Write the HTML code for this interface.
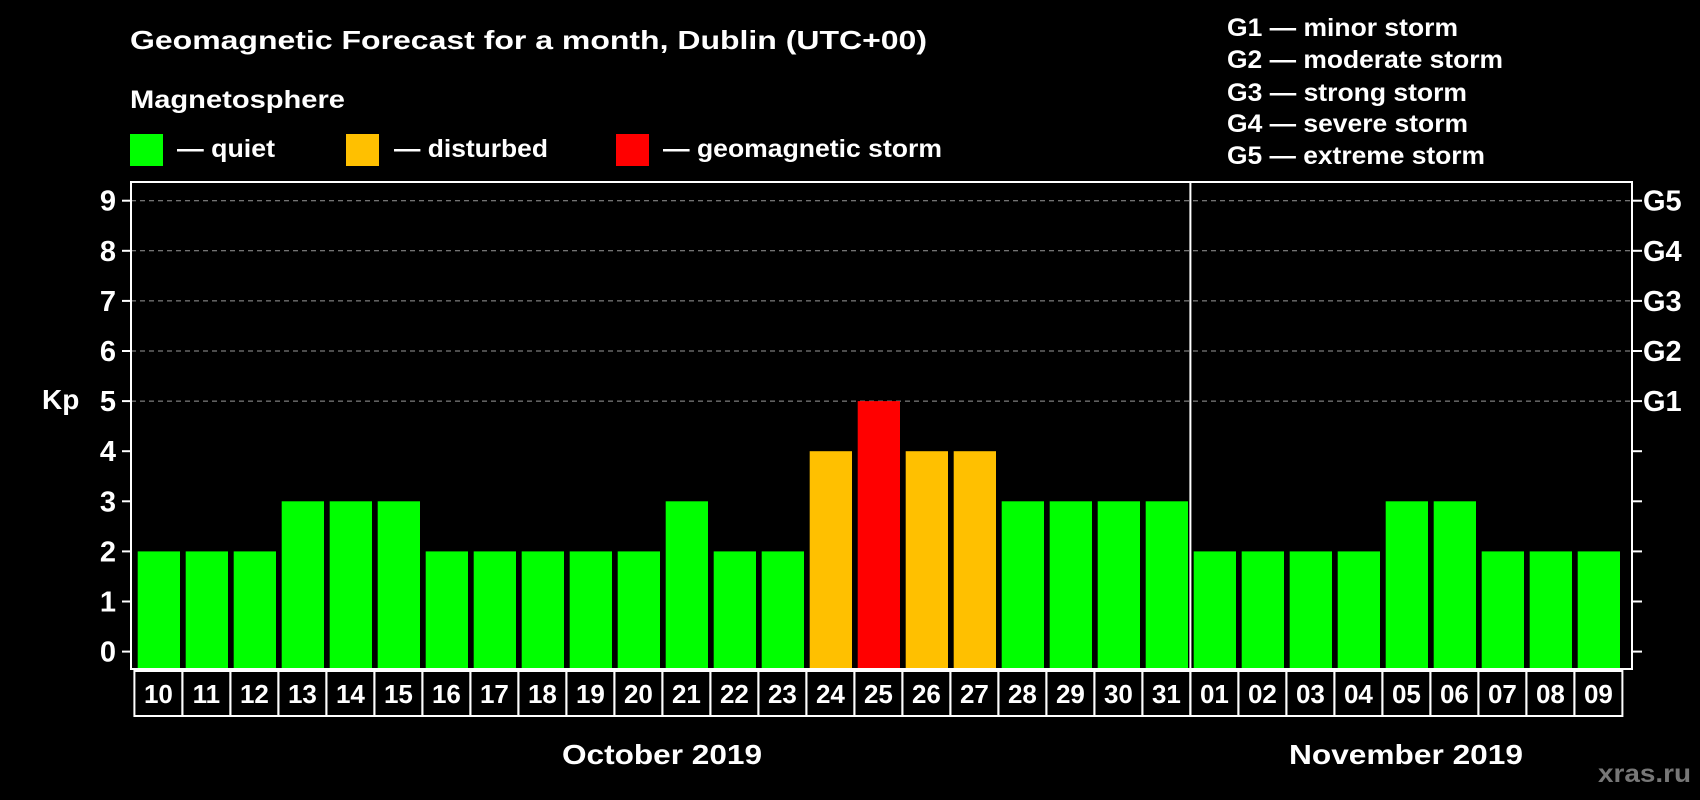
<!DOCTYPE html>
<html><head><meta charset="utf-8"><style>
body{margin:0;background:#000;width:1700px;height:800px;overflow:hidden;font-family:"Liberation Sans",sans-serif;font-weight:bold;color:#fff}
svg{position:absolute;left:0;top:0}
text{font-family:"Liberation Sans",sans-serif;font-weight:bold;fill:#fff}
</style></head><body>
<svg id="chart" width="1700" height="800">
<text x="130" y="49" font-size="26" textLength="797" lengthAdjust="spacingAndGlyphs">Geomagnetic Forecast for a month, Dublin (UTC+00)</text>
<text x="130" y="108" font-size="25" textLength="215" lengthAdjust="spacingAndGlyphs">Magnetosphere</text>
<rect x="130" y="134" width="33" height="32" fill="#00ff00"/>
<text x="177" y="157" font-size="25" textLength="98" lengthAdjust="spacingAndGlyphs">— quiet</text>
<rect x="346" y="134" width="33" height="32" fill="#ffc000"/>
<text x="394" y="157" font-size="25" textLength="154" lengthAdjust="spacingAndGlyphs">— disturbed</text>
<rect x="616" y="134" width="33" height="32" fill="#ff0000"/>
<text x="663" y="157" font-size="25" textLength="279" lengthAdjust="spacingAndGlyphs">— geomagnetic storm</text>
<text x="1227" y="36" font-size="25" textLength="231" lengthAdjust="spacingAndGlyphs">G1 — minor storm</text>
<text x="1227" y="68" font-size="25" textLength="276" lengthAdjust="spacingAndGlyphs">G2 — moderate storm</text>
<text x="1227" y="101" font-size="25" textLength="240" lengthAdjust="spacingAndGlyphs">G3 — strong storm</text>
<text x="1227" y="132" font-size="25" textLength="241" lengthAdjust="spacingAndGlyphs">G4 — severe storm</text>
<text x="1227" y="164" font-size="25" textLength="258" lengthAdjust="spacingAndGlyphs">G5 — extreme storm</text>
<text x="42" y="409" font-size="28">Kp</text>
<g id="plot"></g>
<text x="562" y="764" font-size="28" textLength="200" lengthAdjust="spacingAndGlyphs">October 2019</text>
<text x="1289" y="764" font-size="28" textLength="234" lengthAdjust="spacingAndGlyphs">November 2019</text>
<text x="1598" y="782" font-size="25" textLength="93" lengthAdjust="spacingAndGlyphs" style="fill:#777">xras.ru</text>
</svg>
<script>
const days=["10","11","12","13","14","15","16","17","18","19","20","21","22","23","24","25","26","27","28","29","30","31","01","02","03","04","05","06","07","08","09"];
const kp=[2,2,2,3,3,3,2,2,2,2,2,3,2,2,4,5,4,4,3,3,3,3,2,2,2,2,3,3,2,2,2];
const yTicks=[0,1,2,3,4,5,6,7,8,9];
const gLabels=["G1","G2","G3","G4","G5"];
const NS="http://www.w3.org/2000/svg";
const g=document.getElementById('plot');
const L=131,R=1632,T=182,B=669,Y0=651.6,U=50.1,X0=134.4,P=48.0;
const y=v=>Y0-v*U;
const x=i=>X0+i*P;
function mk(t,a){const e=document.createElementNS(NS,t);for(const k in a)e.setAttribute(k,a[k]);g.appendChild(e);return e;}
yTicks.forEach(v=>{
 if(v>=5){const l=mk('line',{x1:L,x2:R,y1:y(v),y2:y(v),stroke:'#999','stroke-dasharray':'5,4','stroke-width':1});
 
 }
 const t1=mk('line',{x1:122,x2:L,y1:y(v),y2:y(v),stroke:'#fff','stroke-width':2});
 
 
 const t2=mk('line',{x1:R,x2:R+10,y1:y(v),y2:y(v),stroke:'#fff','stroke-width':2});
 
 
 const lb=mk('text',{x:116,y:y(v)+10,'font-size':29,'text-anchor':'end'});lb.textContent=v;
 
 
});
gLabels.forEach((s,i)=>{const t=mk('text',{x:R+11,y:y(5+i)+10,'font-size':29});t.textContent=s;
 
 });
kp.forEach((v,i)=>{
 const c=v>=5?'#ff0000':v>=4?'#ffc000':'#00ff00';
 const r=mk('rect',{x:x(i)+3.3,y:y(v),width:42.3,height:B-y(v),fill:c});
 
 
 const b=mk('rect',{x:x(i),y:671,width:P,height:45,fill:'none',stroke:'#fff','stroke-width':2});
 
 
 const t=mk('text',{x:x(i)+P/2,y:703,'font-size':26,'text-anchor':'middle'});t.textContent=days[i];
 
 
});
const fr=mk('rect',{x:L,y:T,width:R-L,height:B-T,fill:'none',stroke:'#fff','stroke-width':2});


const dv=mk('line',{x1:x(22),x2:x(22),y1:T,y2:716,stroke:'#fff','stroke-width':2});


</script>
</body></html>
